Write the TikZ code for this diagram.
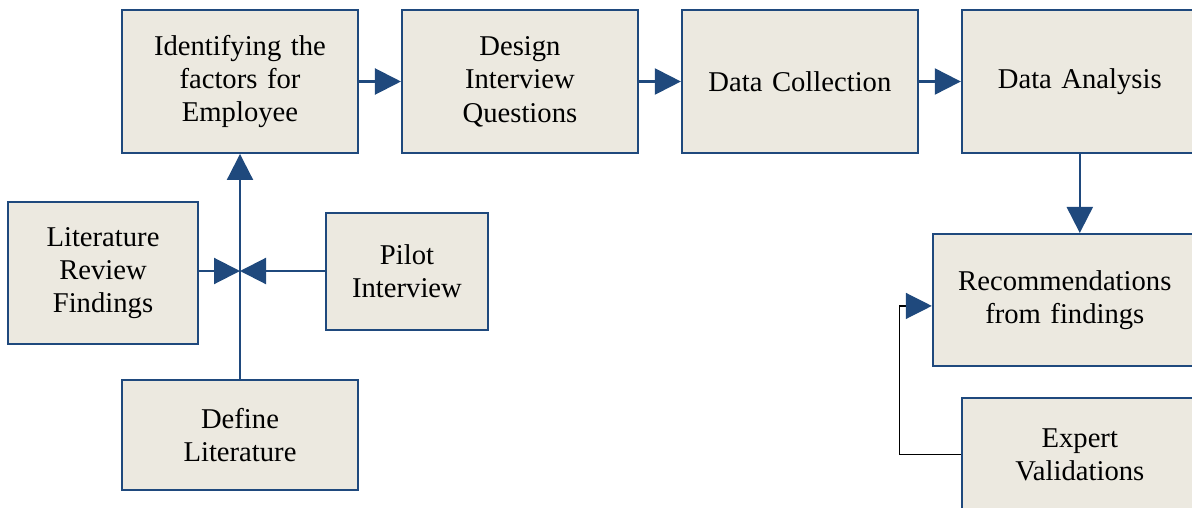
\documentclass[tikz,border=0pt]{standalone}
\usepackage{fontspec}
\setmainfont{Liberation Serif}
\usetikzlibrary{arrows.meta, positioning}

\definecolor{boxfill}{RGB}{236,233,224}
\definecolor{boxline}{RGB}{31,73,125}

\begin{document}
\begin{tikzpicture}[node distance=0.84cm,
    stage/.style={rectangle, draw=boxline, line width=1.1pt, fill=boxfill, text width=4.3cm, align=center, minimum width=4.72cm, minimum height=2.86cm, font=\fontsize{16.3}{19}\selectfont},
    line/.style={draw=boxline, line width=1.2pt, -{Triangle[length=0.52cm, width=0.52cm]}},
    feedback/.style={draw=black, line width=0.7pt, -{Triangle[length=0.52cm, width=0.52cm, color=boxline, fill=boxline]}}
]
    \useasboundingbox (0,0) rectangle (23.84,-10.16);
    \clip (0,0) rectangle (23.84,-10.16);

    % Main flow
    \node [stage] (ident) at (4.80,-1.63) {Identifying the\\factors for\\Employee};
    \node [stage, right=of ident] (design) {Design\\Interview\\Questions};
    \node [stage, right=of design] (collect) {Data Collection};
    \node [stage, right=of collect] (analysis) {Data Analysis};

    % Results
    \node [stage, minimum width=5.28cm, text width=5cm, minimum height=2.64cm, below=1.58cm of analysis, xshift=-0.3cm] (recom) {Recommendations\\from findings};
    \node [stage, minimum height=2.28cm, below=0.6cm of recom, xshift=0.3cm] (expert) {Expert\\Validations};

    % Inputs
    \node [stage, minimum width=3.8cm, text width=3.4cm, minimum height=2.84cm] (litrev) at (2.06,-5.46) {Literature\\Review\\Findings};
    \node [stage, minimum width=3.24cm, text width=3cm, minimum height=2.34cm] (pilot) at (8.14,-5.43) {Pilot\\Interview};
    \node [stage, minimum height=2.2cm, below=4.5cm of ident] (define) {Define\\Literature};

    \coordinate (join) at (4.80,-5.42);
    \coordinate (fbin) at ([yshift=-0.12cm]recom.west);

    % Connections
    \path [line] (ident) -- (design);
    \path [line] (design) -- (collect);
    \path [line] (collect) -- (analysis);
    \path [line] (analysis.south) -- (analysis.south |- recom.north);
    \path [line] (litrev.east |- join) -- (join);
    \path [line] (pilot.west |- join) -- (join);
    \path [line] (define) -- (ident);
    \path [feedback] (expert.west) -- ++(-1.22,0) |- (fbin);
\end{tikzpicture}
\end{document}
